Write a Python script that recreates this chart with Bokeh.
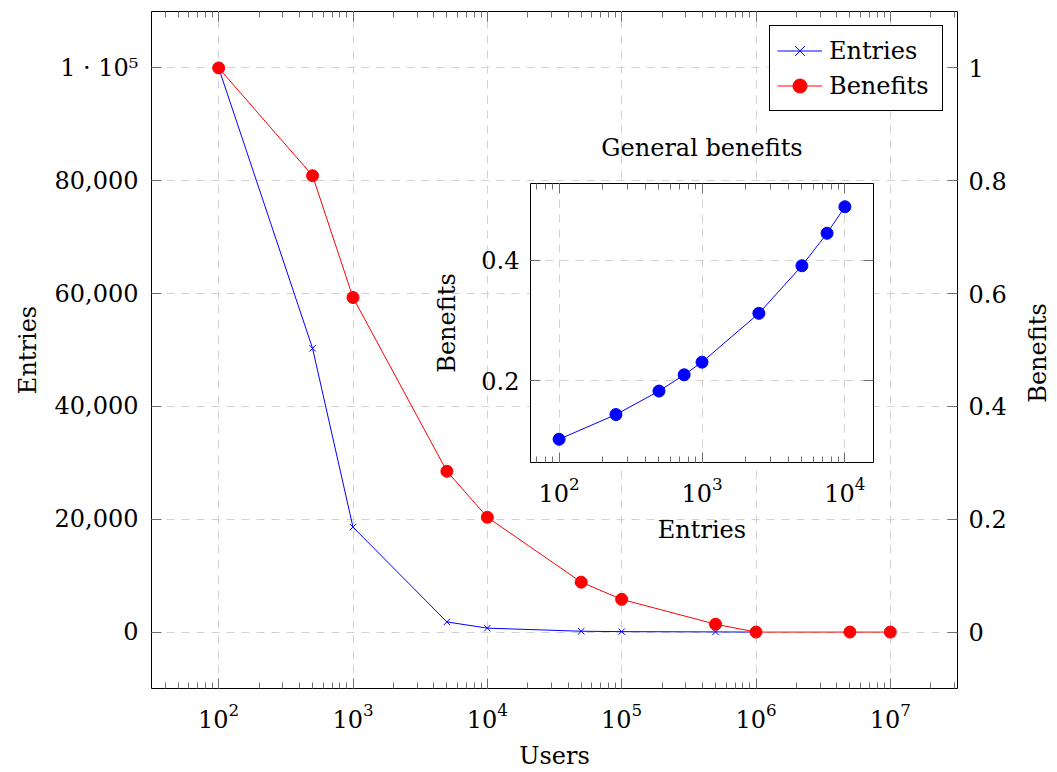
import math
from bokeh.plotting import figure
from bokeh.models import (Range1d, LogAxis, LinearAxis, LogTicker, FixedTicker,
                          CustomJSTickFormatter, Legend, LegendItem, Title, Div)
from bokeh.layouts import column
from bokeh.embed import file_html
from bokeh.resources import INLINE

# ---------------- data ----------------
users_entries = [1e2, 5e2, 1e3, 5e3, 1e4, 5e4, 1e5, 5e5, 1e6]
entries = [100000, 50300, 18600, 1800, 700, 150, 80, 30, 0]

users_benefits = [1e2, 5e2, 1e3, 5e3, 1e4, 5e4, 1e5, 5e5, 1e6, 5e6, 1e7]
benefits = [1.0, 0.809, 0.593, 0.285, 0.2035, 0.0885, 0.058, 0.014, 0.0, 0.0, 0.0]

inset_entries = [100, 250, 500, 750, 1000, 2500, 5000, 7500, 10000]
inset_benefits = [0.103, 0.144, 0.183, 0.210, 0.231, 0.312, 0.391, 0.445, 0.489]

left_ticks = [0, 20000, 40000, 60000, 80000, 100000]
right_ticks = [0, 0.2, 0.4, 0.6, 0.8, 1.0]
inset_y_ticks = [0.2, 0.4]

FONT = "DejaVu Serif"
FS = "24px"
GRID_COLOR = "#d2d2d2"
GRID_DASH = "8 7"
TICK_COLOR = "#6e6e6e"


def style_axis(ax, labels=True):
    ax.axis_line_color = None
    ax.major_tick_in = 10
    ax.major_tick_out = 0
    ax.minor_tick_in = 6
    ax.minor_tick_out = 0
    ax.major_tick_line_color = TICK_COLOR
    ax.minor_tick_line_color = TICK_COLOR
    ax.major_label_text_font = FONT
    ax.major_label_text_font_size = FS if labels else "0px"
    ax.major_label_text_color = "black"
    ax.axis_label_text_font = FONT
    ax.axis_label_text_font_size = FS
    ax.axis_label_text_font_style = "normal"
    ax.axis_label_text_color = "black"


# ---------------- main figure ----------------
p = figure(width=1057, height=772, x_axis_type="log",
           x_range=Range1d(10 ** 1.5, 10 ** 7.5), y_range=Range1d(-10000, 110000),
           output_backend="svg", toolbar_location=None,
           min_border_left=151, min_border_right=100, min_border_top=11, min_border_bottom=84)
p.outline_line_color = "black"
p.outline_line_width = 1
p.background_fill_color = "white"
p.border_fill_color = "white"

p.extra_y_ranges = {"ben": Range1d(-0.1, 1.1)}

xb = p.xaxis[0]
xb.ticker = LogTicker(num_minor_ticks=10)
xb.axis_label = "Users"
style_axis(xb)
xb.major_label_standoff = 14
xb.axis_label_standoff = 11

xt = LogAxis(ticker=LogTicker(num_minor_ticks=10))
style_axis(xt, labels=False)
xt.major_label_standoff = 0
xt.formatter = CustomJSTickFormatter(code="return ''")
p.add_layout(xt, "above")

yl = p.yaxis[0]
yl.ticker = FixedTicker(ticks=left_ticks)
yl.formatter = CustomJSTickFormatter(code="""
if (Math.abs(tick - 100000) < 1) { return "1 \u00b7 10\u2075"; }
return Math.round(tick).toLocaleString("en-US");
""")
yl.axis_label = "Entries"
style_axis(yl)
yl.major_label_standoff = 13
yl.axis_label_standoff = 10

yr = LinearAxis(y_range_name="ben", ticker=FixedTicker(ticks=right_ticks))
yr.formatter = CustomJSTickFormatter(code="return (Math.round(tick*10)/10).toString();")
style_axis(yr)
yr.major_label_standoff = 11
p.add_layout(yr, "right")

p.xgrid.ticker = xb.ticker
p.ygrid.ticker = yl.ticker
for g in (p.xgrid[0], p.ygrid[0]):
    g.grid_line_color = GRID_COLOR
    g.grid_line_dash = GRID_DASH
    g.grid_line_width = 1

l1 = p.line(users_entries, entries, line_color="#0000ff", line_width=1)
m1 = p.scatter(users_entries, entries, marker="x", size=9, line_color="#0000ff", line_width=1)
l2 = p.line(users_benefits, benefits, line_color="#ff0000", line_width=1, y_range_name="ben")
m2 = p.scatter(users_benefits, benefits, marker="circle", size=12, fill_color="#ff0000",
               line_color="#ff0000", y_range_name="ben")

legend = Legend(items=[LegendItem(label="Entries", renderers=[l1, m1]),
                       LegendItem(label="Benefits", renderers=[l2, m2])],
                location="top_right")
legend.label_text_font = FONT
legend.label_text_font_size = FS
legend.label_text_color = "black"
legend.border_line_color = "black"
legend.border_line_width = 1
legend.border_line_alpha = 1
legend.background_fill_alpha = 1
legend.glyph_width = 45
legend.glyph_height = 35
legend.label_height = 35
legend.label_width = 106
legend.label_standoff = 7
legend.spacing = 0
legend.padding = 7
legend.margin = 14
p.add_layout(legend, "center")

# right axis title (reads bottom-to-top like the left one)
right_title = Div(text="Benefits", width=120, height=30)
right_title.styles = {
    "position": "absolute", "left": "973px", "top": "333px",
    "transform": "rotate(-90deg)", "transform-origin": "50% 50%",
    "font-family": FONT, "font-size": FS, "line-height": "30px",
    "text-align": "center", "color": "black", "white-space": "nowrap",
}

# ---------------- inset figure ----------------
q = figure(width=594, height=463, x_axis_type="log",
           x_range=Range1d(10 ** 1.8, 10 ** 4.2), y_range=Range1d(0.0644, 0.5276),
           output_backend="svg", toolbar_location=None,
           min_border_left=151, min_border_right=100, min_border_top=100, min_border_bottom=84)
q.outline_line_color = "black"
q.background_fill_color = "white"
q.border_fill_color = None
q.border_fill_alpha = 0
q.title = Title(text="General benefits", align="center", text_font=FONT,
                text_font_size=FS, text_font_style="normal", text_color="black",
                standoff=44)

qx = q.xaxis[0]
qx.ticker = LogTicker(num_minor_ticks=10)
qx.axis_label = "Entries"
style_axis(qx)
qx.major_label_standoff = 14
qx.axis_label_standoff = 11

qxt = LogAxis(ticker=LogTicker(num_minor_ticks=10))
style_axis(qxt, labels=False)
qxt.major_label_standoff = 0
qxt.formatter = CustomJSTickFormatter(code="return ''")
q.add_layout(qxt, "above")

qy = q.yaxis[0]
qy.ticker = FixedTicker(ticks=inset_y_ticks)
qy.formatter = CustomJSTickFormatter(code="return (Math.round(tick*10)/10).toString();")
qy.axis_label = "Benefits"
style_axis(qy)
qy.major_label_standoff = 11
qy.axis_label_standoff = 17

qyr = LinearAxis(ticker=FixedTicker(ticks=inset_y_ticks))
style_axis(qyr, labels=False)
qyr.major_label_standoff = 0
qyr.formatter = CustomJSTickFormatter(code="return ''")
q.add_layout(qyr, "right")

q.xgrid.ticker = qx.ticker
q.ygrid.ticker = qy.ticker
for g in (q.xgrid[0], q.ygrid[0]):
    g.grid_line_color = GRID_COLOR
    g.grid_line_dash = GRID_DASH

q.line(inset_entries, inset_benefits, line_color="#0000ff", line_width=1)
q.scatter(inset_entries, inset_benefits, marker="circle", size=12,
          fill_color="#0000ff", line_color="#0000ff")

q.styles = {"position": "absolute", "left": "379px", "top": "83px"}

layout = column(p, q, right_title)
open("out.html", "w").write(file_html(layout, INLINE))
